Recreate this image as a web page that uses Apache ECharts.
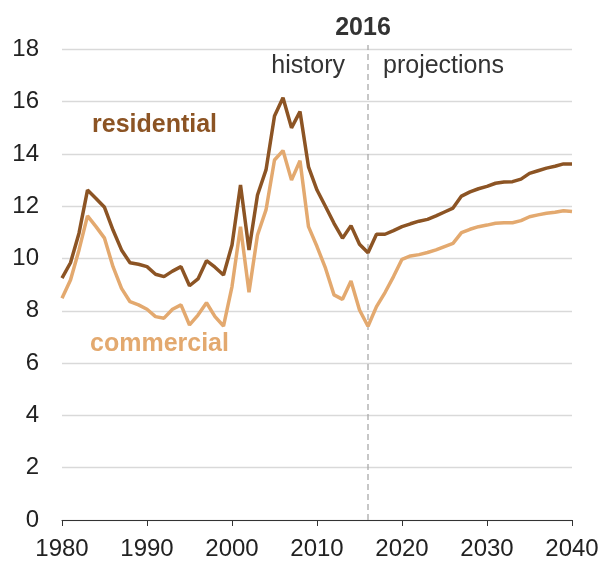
<!DOCTYPE html>
<html>
<head>
<meta charset="utf-8">
<script src="https://cdn.jsdelivr.net/npm/echarts@6/dist/echarts.min.js"></script>
<style>html,body{margin:0;padding:0;background:#fff}#c{width:610px;height:563px}</style>
</head>
<body>
<div id="c"></div>
<script>
const years = [];
for (let y = 1980; y <= 2040; y++) years.push(y);
const residential = [9.25,9.84,10.97,12.62,12.3,11.96,11.09,10.33,9.84,9.78,9.69,9.4,9.31,9.52,9.69,8.96,9.22,9.92,9.67,9.37,10.52,12.81,10.33,12.43,13.39,15.45,16.15,15.0,15.62,13.51,12.62,11.99,11.35,10.78,11.26,10.55,10.22,10.93,10.93,11.07,11.22,11.33,11.43,11.5,11.63,11.78,11.93,12.39,12.55,12.67,12.76,12.88,12.93,12.94,13.04,13.26,13.36,13.46,13.53,13.62,13.62];
const commercial = [8.48,9.18,10.33,11.63,11.22,10.78,9.69,8.86,8.35,8.23,8.06,7.78,7.72,8.06,8.23,7.46,7.84,8.31,7.78,7.42,8.93,11.22,8.71,10.9,11.86,13.77,14.13,13.0,13.74,11.22,10.46,9.63,8.61,8.44,9.14,8.03,7.41,8.16,8.7,9.31,9.97,10.1,10.15,10.23,10.33,10.46,10.58,10.99,11.12,11.22,11.28,11.35,11.37,11.37,11.45,11.6,11.67,11.73,11.77,11.83,11.8];
const xTicks = [1980,1990,2000,2010,2020,2030,2040];
const yTicks = [0,2,4,6,8,10,12,14,16,18];
const dividerYear = 2016;
const dividerTop = 18.17;

const font = '"Liberation Sans", Arial, sans-serif';
const chart = echarts.init(document.getElementById('c'), null, {renderer:'canvas'});
chart.setOption({
  animation: false,
  grid: {left: 62, right: 38, top: 49.4, bottom: 43},
  xAxis: {
    type: 'value', min: xTicks[0], max: xTicks[xTicks.length-1], interval: 10,
    axisLine: {lineStyle: {color: '#333', width: 1}},
    axisTick: {show: true, length: 6, lineStyle: {color: '#333'}},
    axisLabel: {fontFamily: font, fontSize: 24, color: '#222', margin: 17, formatter: v => String(v)},
    splitLine: {show: false}
  },
  yAxis: {
    type: 'value', min: yTicks[0], max: yTicks[yTicks.length-1], interval: 2,
    axisLine: {show: false}, axisTick: {show: false},
    axisLabel: {fontFamily: font, fontSize: 24, color: '#222', margin: 23},
    splitLine: {lineStyle: {color: '#d9d9d9', width: 1.3}}
  },
  series: [
    {
      type: 'line', name: 'divider', showSymbol: false, clip: false, silent: true,
      data: [[dividerYear, 0], [dividerYear, dividerTop]],
      lineStyle: {type: [6,4], color: '#aaa', width: 1.3}, z: 2
    },
    {
      type: 'line', name: 'commercial', showSymbol: false,
      data: years.map((y,i)=>[y, commercial[i]]),
      lineStyle: {color: '#E3A96F', width: 3.5}, itemStyle:{color:'#E3A96F'}, z: 3
    },
    {
      type: 'line', name: 'residential', showSymbol: false,
      data: years.map((y,i)=>[y, residential[i]]),
      lineStyle: {color: '#8C5424', width: 3.5}, itemStyle:{color:'#8C5424'}, z: 4
    }
  ],
  graphic: [
    {type:'text', x: 363, y: 28, style:{text: String(dividerYear), font: 'bold 25px ' + font, fill: '#333', textAlign:'center', textVerticalAlign:'middle'}},
    {type:'text', x: 345, y: 66, style:{text: 'history', font: '25px ' + font, fill: '#333', textAlign:'right', textVerticalAlign:'middle'}},
    {type:'text', x: 383, y: 66, style:{text: 'projections', font: '25px ' + font, fill: '#333', textAlign:'left', textVerticalAlign:'middle'}},
    {type:'text', x: 92, y: 125, style:{text: 'residential', font: 'bold 25px ' + font, fill: '#8C5424', textAlign:'left', textVerticalAlign:'middle'}},
    {type:'text', x: 90, y: 344, style:{text: 'commercial', font: 'bold 25px ' + font, fill: '#E3A96F', textAlign:'left', textVerticalAlign:'middle'}}
  ]
});
</script>
</body>
</html>
